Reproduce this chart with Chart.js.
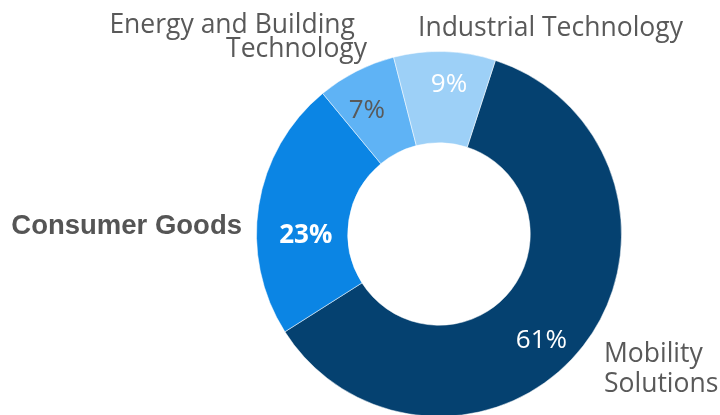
<!DOCTYPE html>
<html>
<head>
<meta charset="utf-8">
<script src="https://cdn.jsdelivr.net/npm/chart.js@4.4.1/dist/chart.umd.min.js"></script>
<style>
  html, body { margin: 0; padding: 0; background: #fff; overflow: hidden; }
  #wrap { width: 720px; height: 420px; }
</style>
</head>
<body>
<div id="wrap"><canvas id="divisionChart" width="720" height="420"></canvas></div>
<script>
// values (share of sales, %)
const categories = ['Mobility Solutions', 'Consumer Goods', 'Energy and Building Technology', 'Industrial Technology'];
const shares = [61, 23, 7, 9];

const sliceColors = ['#054170', '#0b85e4', '#5fb3f5', '#9dd0f7'];
const valueColors = ['#ffffff', '#ffffff', '#595959', '#ffffff'];
const valueFonts = ['26px "Open Sans"', 'bold 26px "Open Sans"', '26px "Open Sans"', '26px "Open Sans"'];
// label placement inside each slice: angle nudge (deg) and depth into the ring (0 = inner, 1 = outer)
const valueNudge = [8, -9, -3, 2];
const valueDepth = [0.61, 0.46, 0.58, 0.66];

// category names around the ring, offsets from the ring centre
const nameFont = '26.5px "Open Sans"';
const nameLines = [
  { text: 'Mobility', dx: 165, dy: 128, align: 'left' },
  { text: 'Solutions', dx: 165, dy: 158, align: 'left' },
  { text: 'Consumer Goods', dx: -197, dy: 0, align: 'right', font: 'bold 27.5px "Liberation Sans"', color: '#555555' },
  { text: 'Energy and Building', dx: -84, dy: -201, align: 'right' },
  { text: 'Technology', dx: -72, dy: -177, align: 'right' },
  { text: 'Industrial Technology', dx: -21, dy: -198, align: 'left' }
];

const labelPlugin = {
  id: 'sliceLabels',
  afterDatasetsDraw(chart) {
    const ctx = chart.ctx;
    const meta = chart.getDatasetMeta(0);
    ctx.save();
    ctx.textBaseline = 'alphabetic';
    meta.data.forEach((arc, i) => {
      const p = arc.getProps(['x', 'y', 'startAngle', 'endAngle', 'innerRadius', 'outerRadius'], true);
      const mid = (p.startAngle + p.endAngle) / 2 + valueNudge[i] * Math.PI / 180;
      const r = p.innerRadius + (p.outerRadius - p.innerRadius) * valueDepth[i];
      ctx.font = valueFonts[i];
      ctx.fillStyle = valueColors[i];
      ctx.textAlign = 'center';
      ctx.fillText(shares[i] + '%', p.x + Math.cos(mid) * r, p.y + Math.sin(mid) * r + 9);
    });

    const cx = meta.data[0].x;
    const cy = meta.data[0].y;
    nameLines.forEach(l => {
      ctx.font = l.font || nameFont;
      ctx.fillStyle = l.color || '#595959';
      ctx.textAlign = l.align;
      ctx.fillText(l.text, cx + l.dx, cy + l.dy);
    });
    ctx.restore();
  }
};

const ctx = document.getElementById('divisionChart').getContext('2d');
const divisionChart = new Chart(ctx, {
  type: 'doughnut',
  data: {
    labels: categories,
    datasets: [{
      data: shares,
      backgroundColor: sliceColors,
      borderColor: 'rgba(255,255,255,0.5)',
      borderWidth: 1
    }]
  },
  options: {
    responsive: false,
    devicePixelRatio: 1,
    animation: false,
    cutout: '50%',
    rotation: 18,
    layout: {
      padding: { left: 256, right: 98, top: 51, bottom: 3 }
    },
    plugins: {
      legend: { display: false },
      tooltip: { enabled: false }
    }
  },
  plugins: [labelPlugin]
});
</script>
</body>
</html>
